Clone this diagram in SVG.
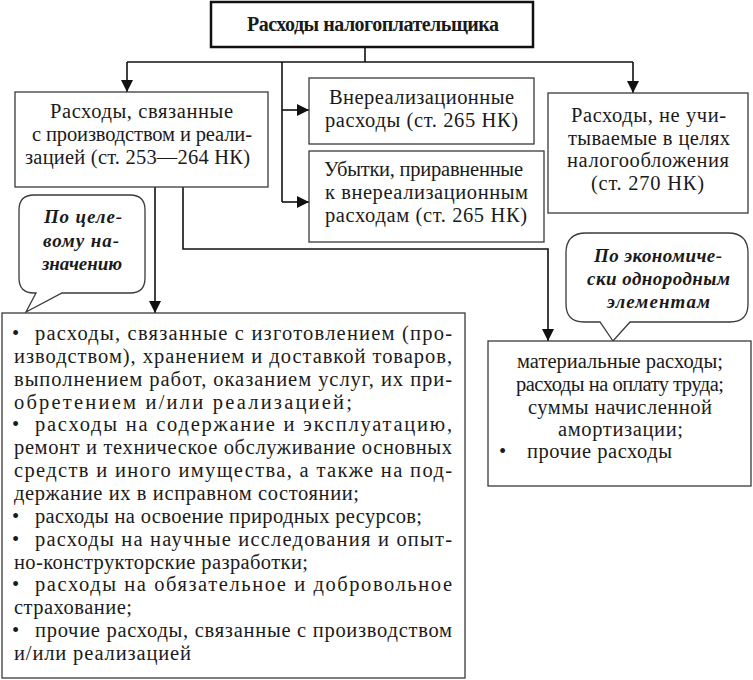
<svg xmlns="http://www.w3.org/2000/svg" width="753" height="680" viewBox="0 0 753 680">
<defs>
<style>
.box{fill:#fff;stroke:#3a3a3a;stroke-width:1.3}
.tbox{fill:#fff;stroke:#111;stroke-width:2.5}
.bub{fill:#fff;stroke:#3a3a3a;stroke-width:1.3}
.t{font-family:"Liberation Serif","Times New Roman",serif;font-size:20.5px;fill:#1a1a1a}
.b{font-weight:bold;font-size:20px}
.bi{font-weight:bold;font-style:italic;font-size:19px}
.con{fill:none;stroke:#111;stroke-width:1.6}
</style>
<marker id="ah" viewBox="0 0 12 12" refX="12" refY="6" markerWidth="12" markerHeight="12" markerUnits="userSpaceOnUse" orient="auto">
<path d="M0,0 L12,6 L0,12 Z" fill="#111"/>
</marker>
</defs>
<rect width="753" height="680" fill="#fff"/>

<g id="connectors">
<path class="con" d="M365,47 V62"/>
<path class="con" d="M127,62 H633"/>
<path class="con" d="M127,62 V92" marker-end="url(#ah)"/>
<path class="con" d="M633,62 V93" marker-end="url(#ah)"/>
<path class="con" d="M282,62 V202"/>
<path class="con" d="M282,110 H309" marker-end="url(#ah)"/>
<path class="con" d="M282,202 H309" marker-end="url(#ah)"/>
<path class="con" d="M155,187 V313" marker-end="url(#ah)"/>
<path class="con" d="M183,187 V249 H548 V341" marker-end="url(#ah)"/>
</g>

<g id="title">
<rect class="tbox" x="211" y="2" width="322" height="45"/>
<text class="t b" x="247" y="31" textLength="252" lengthAdjust="spacing">Расходы налогоплательщика</text>
</g>

<g id="production">
<rect class="box" x="15" y="92" width="253" height="95"/>
<text class="t" x="50" y="118" textLength="183" lengthAdjust="spacing">Расходы, связанные</text>
<text class="t" x="32" y="141" textLength="220" lengthAdjust="spacing">с производством и реали-</text>
<text class="t" x="25" y="164" textLength="225" lengthAdjust="spacing">зацией (ст. 253—264 НК)</text>
</g>

<g id="nonoperating">
<rect class="box" x="309" y="78" width="225" height="66"/>
<text class="t" x="329" y="104" textLength="185" lengthAdjust="spacing">Внереализационные</text>
<text class="t" x="325" y="127" textLength="193" lengthAdjust="spacing">расходы (ст. 265 НК)</text>
</g>

<g id="losses">
<rect class="box" x="309" y="151" width="235" height="91"/>
<text class="t" x="324" y="176" textLength="199" lengthAdjust="spacing">Убытки, приравненные</text>
<text class="t" x="325" y="199" textLength="203" lengthAdjust="spacing">к внереализационным</text>
<text class="t" x="325" y="222" textLength="202" lengthAdjust="spacing">расходам (ст. 265 НК)</text>
</g>

<g id="notcounted">
<rect class="box" x="548" y="93" width="200" height="120"/>
<text class="t" x="571" y="122" textLength="155" lengthAdjust="spacing">Расходы, не учи-</text>
<text class="t" x="568" y="145" textLength="162" lengthAdjust="spacing">тываемые в целях</text>
<text class="t" x="567" y="167" textLength="162" lengthAdjust="spacing">налогообложения</text>
<text class="t" x="591" y="190" textLength="113" lengthAdjust="spacing">(ст. 270 НК)</text>
</g>

<g id="callout-purpose">
<path class="bub" d="M34,195 H130 Q145,195 145,210 V278 Q145,293 130,293 H62 L26,312 L36,293 H34 Q19,293 19,278 V210 Q19,195 34,195 Z"/>
<text class="t bi" x="44" y="223" textLength="78" lengthAdjust="spacing">По целе-</text>
<text class="t bi" x="43" y="247" textLength="76" lengthAdjust="spacing">вому на-</text>
<text class="t bi" x="42" y="270" textLength="80" lengthAdjust="spacing">значению</text>
</g>

<g id="callout-elements">
<path class="bub" d="M586,233 H728 Q748,233 748,253 V304 Q748,322 730,322 H630 L613,341 L600,322 H584 Q566,322 566,304 V253 Q566,233 586,233 Z"/>
<text class="t bi" x="594" y="262" textLength="128" lengthAdjust="spacing">По экономиче-</text>
<text class="t bi" x="587" y="285" textLength="143" lengthAdjust="spacing">ски однородным</text>
<text class="t bi" x="607" y="308" textLength="103" lengthAdjust="spacing">элементам</text>
</g>

<g id="purpose-list">
<rect class="box" x="2" y="313" width="463" height="365"/>
<text class="t" x="12" y="340">•</text>
<text class="t" x="35" y="340" textLength="417" lengthAdjust="spacing">расходы, связанные с изготовлением (про-</text>
<text class="t" x="14" y="362.9" textLength="438" lengthAdjust="spacing">изводством), хранением и доставкой товаров,</text>
<text class="t" x="14" y="385.7" textLength="438" lengthAdjust="spacing">выполнением работ, оказанием услуг, их при-</text>
<text class="t" x="14" y="408.6" textLength="338" lengthAdjust="spacing">обретением и/или реализацией;</text>
<text class="t" x="12" y="431.4">•</text>
<text class="t" x="35" y="431.4" textLength="417" lengthAdjust="spacing">расходы на содержание и эксплуатацию,</text>
<text class="t" x="14" y="454.3" textLength="438" lengthAdjust="spacing">ремонт и техническое обслуживание основных</text>
<text class="t" x="14" y="477.1" textLength="438" lengthAdjust="spacing">средств и иного имущества, а также на под-</text>
<text class="t" x="14" y="500" textLength="345" lengthAdjust="spacing">держание их в исправном состоянии;</text>
<text class="t" x="12" y="522.8">•</text>
<text class="t" x="35" y="522.8" textLength="387" lengthAdjust="spacing">расходы на освоение природных ресурсов;</text>
<text class="t" x="12" y="545.7">•</text>
<text class="t" x="35" y="545.7" textLength="417" lengthAdjust="spacing">расходы на научные исследования и опыт-</text>
<text class="t" x="14" y="568.5" textLength="294" lengthAdjust="spacing">но-конструкторские разработки;</text>
<text class="t" x="12" y="591.4">•</text>
<text class="t" x="35" y="591.4" textLength="417" lengthAdjust="spacing">расходы на обязательное и добровольное</text>
<text class="t" x="14" y="614.2" textLength="118" lengthAdjust="spacing">страхование;</text>
<text class="t" x="12" y="637">•</text>
<text class="t" x="35" y="637" textLength="417" lengthAdjust="spacing">прочие расходы, связанные с производством</text>
<text class="t" x="14" y="660" textLength="177" lengthAdjust="spacing">и/или реализацией</text>
</g>

<g id="elements-list">
<rect class="box" x="488" y="341" width="263" height="145"/>
<text class="t" x="517" y="368" textLength="206" lengthAdjust="spacing">материальные расходы;</text>
<text class="t" x="516" y="391" textLength="208" lengthAdjust="spacing">расходы на оплату труда;</text>
<text class="t" x="528" y="414" textLength="184" lengthAdjust="spacing">суммы начисленной</text>
<text class="t" x="558" y="436" textLength="125" lengthAdjust="spacing">амортизации;</text>
<text class="t" x="499" y="458">•</text>
<text class="t" x="527" y="458" textLength="145" lengthAdjust="spacing">прочие расходы</text>
</g>
</svg>
